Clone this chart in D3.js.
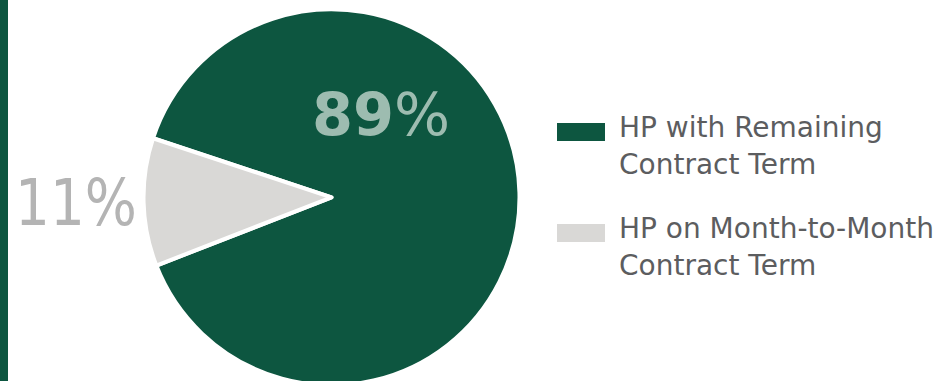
<!DOCTYPE html>
<html>
<head>
<meta charset="utf-8">
<script src="https://cdn.jsdelivr.net/npm/d3@7"></script>
<style>
  html, body { margin: 0; padding: 0; background: #ffffff; }
  svg { display: block; }
</style>
</head>
<body>
<svg id="chart" width="944" height="381"></svg>
<script>
// Contract-term split of HP
const categories = ["HP with Remaining Contract Term", "HP on Month-to-Month Contract Term"];
const legendLines = [["HP with Remaining", "Contract Term"], ["HP on Month-to-Month", "Contract Term"]];
const shares = [89, 11];
const labels = ["89", "11"];
const colors = ["#0d5640", "#d9d8d6"];

const svg = d3.select("#chart");
const W = 944, H = 381;

// accent bar on the left edge
svg.append("rect")
  .attr("x", 0).attr("y", 0)
  .attr("width", 8).attr("height", H)
  .attr("fill", colors[0]);

const cx = 331.5, cy = 197.3, R = 188;

// rotate so the small slice sits on the left
const start = (288.3 / 180) * Math.PI;
const pie = d3.pie().sort(null).value(d => d)
  .startAngle(start).endAngle(start + 2 * Math.PI);
const arc = d3.arc().innerRadius(0).outerRadius(R);

const arcs = pie(shares);

const g = svg.append("g").attr("transform", `translate(${cx},${cy})`);
g.selectAll("path.slice")
  .data(arcs)
  .join("path")
  .attr("class", "slice")
  .attr("d", arc)
  .attr("fill", (d, i) => colors[i])
  .attr("stroke", "#ffffff")
  .attr("stroke-width", 4)
  .attr("stroke-linejoin", "round");

// value labels
const big = svg.append("text")
  .attr("x", 312).attr("y", 134.5)
  .attr("font-family", "DejaVu Sans, Verdana, sans-serif")
  .attr("font-size", 59)
  .attr("fill", "#9dbcb0");
big.append("tspan").attr("font-weight", "bold").text(labels[0]);
big.append("tspan").attr("font-weight", "normal").text("%");

svg.append("text")
  .attr("x", 15).attr("y", 225)
  .attr("font-family", "DejaVu Sans, Verdana, sans-serif")
  .attr("font-size", 64)
  .attr("textLength", 122)
  .attr("lengthAdjust", "spacingAndGlyphs")
  .attr("fill", "#b4b4b4")
  .text(labels[1] + "%");

// legend
const legend = svg.append("g").attr("class", "legend");
const legendY = [123, 224];
categories.forEach((c, i) => {
  const item = legend.append("g").attr("transform", `translate(557,${legendY[i]})`);
  item.append("rect")
    .attr("width", 48).attr("height", 18)
    .attr("fill", colors[i]);
  const t = item.append("text")
    .attr("font-family", "DejaVu Sans, Verdana, sans-serif")
    .attr("font-size", 28)
    .attr("fill", "#5c5d5f");
  legendLines[i].forEach((line, k) => {
    t.append("tspan")
      .attr("x", 62)
      .attr("y", 14 + k * 36.5)
      .text(line);
  });
});
</script>
</body>
</html>
